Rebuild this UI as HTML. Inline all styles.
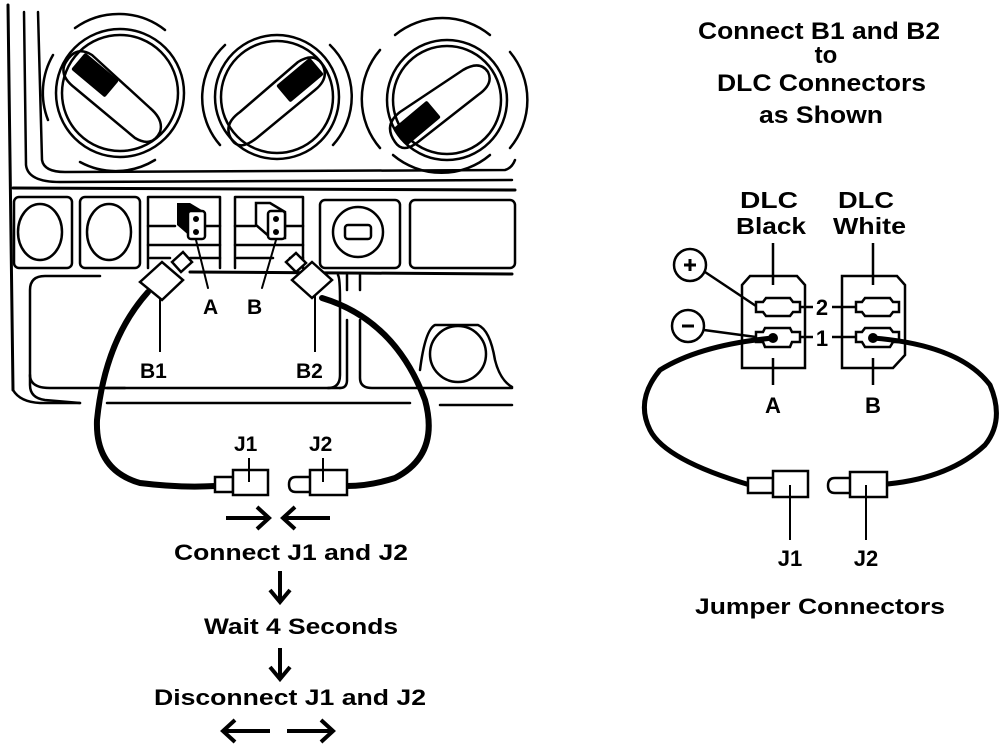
<!DOCTYPE html>
<html><head><style>
html,body{margin:0;padding:0;background:#fff;}
svg{display:block;}
text{font-family:"Liberation Sans",Arial,sans-serif;font-weight:bold;fill:#000;}
</style></head><body>
<svg width="1008" height="752" viewBox="0 0 1008 752" xmlns="http://www.w3.org/2000/svg">
<g fill="none" stroke="#000" stroke-width="2.5" stroke-linecap="round" stroke-linejoin="round">
<path d="M8 5 L13 390" stroke-width="3"/>
<path d="M24 12 L26 165 Q28 182 60 182 L512 180"/>
<path d="M38 12 L42 160 Q44 172 65 172 L505 170 Q512 168 515 160"/>
<path d="M13 188 L515 190" stroke-width="3"/>
<path d="M13 390 Q20 402 40 403 L80 403"/>
<path d="M107 403 L410 403"/>
<path d="M440 405 L512 405"/>
<path d="M107 388 L340 388"/>
<circle cx="120" cy="93" r="58"/>
<circle cx="120" cy="93" r="64"/>
<path d="M75 28 A75 75 0 0 1 165 30"/>
<path d="M53 55 A75 75 0 0 0 48 120"/>
<path d="M80 162 A75 75 0 0 0 155 160"/>
<path d="M66 62 Q58 75 75 88 L135 138 Q152 148 160 132 Q164 120 150 108 L92 55 Q76 45 66 62 Z"/>
<circle cx="277" cy="97" r="56"/>
<circle cx="277" cy="97" r="62"/>
<path d="M225 45 A72 72 0 0 0 220 145"/>
<path d="M330 45 A72 72 0 0 1 333 145"/>
<path d="M232 140 Q222 125 240 112 L298 62 Q314 52 322 64 Q330 78 315 90 L258 137 Q240 152 232 140 Z"/>
<circle cx="447" cy="100" r="54"/>
<circle cx="447" cy="100" r="60"/>
<path d="M395 35 A75 75 0 0 1 490 35"/>
<path d="M380 50 A75 75 0 0 0 380 148"/>
<path d="M510 52 A75 75 0 0 1 510 148"/>
<path d="M393 155 A75 75 0 0 0 490 155"/>
<path d="M395 142 Q383 125 400 112 L463 70 Q480 60 488 72 Q494 84 478 95 L418 142 Q403 154 395 142 Z"/>
<rect x="14" y="197" width="58" height="71" rx="5"/>
<ellipse cx="40" cy="232" rx="22" ry="28"/>
<rect x="80" y="197" width="60" height="71" rx="5"/>
<ellipse cx="109" cy="232" rx="22" ry="28"/>
<path d="M148 268 L148 197 L220 197 L220 268"/>
<path d="M148 226 L175 226 M205 226 L220 226 M148 245 L220 245 M150 258 L170 258 M190 258 L220 258"/>
<path d="M235 268 L235 197 L303 197 L303 268"/>
<path d="M235 226 L255 226 M285 226 L303 226 M235 245 L303 245 M237 258 L273 258 M290 258 L303 258"/>
<rect x="320" y="200" width="80" height="68" rx="5"/>
<circle cx="358" cy="232" r="25"/>
<rect x="345" y="225" width="26" height="14" rx="3"/>
<rect x="410" y="200" width="105" height="68" rx="5"/>
<path d="M190 272 L512 274" stroke-width="3"/>
<path d="M80 403 L45 400 Q30 398 30 385 L30 290 Q30 276 45 276 L100 276" />
<path d="M125 388 L50 388 Q30 388 30 375"/>
<path d="M338 275 Q340 278 340 300 L340 375 Q340 388 328 388"/>
<path d="M347 275 L347 290 M360 275 L360 290"/>
<path d="M347 320 L347 380 Q347 388 340 388"/>
<path d="M360 320 L360 378 Q360 388 372 388 L512 388"/>
<path d="M420 370 Q425 330 435 325 L478 325 Q490 330 495 360 Q500 380 512 387"/>
<circle cx="458" cy="354" r="28"/>
</g>
<!-- black knob windows -->
<rect x="73" y="64" width="44" height="22" rx="2" fill="#000" transform="rotate(40 95 75)"/>
<rect x="278" y="69" width="44" height="22" rx="2" fill="#000" transform="rotate(-40 300 80)"/>
<rect x="395" y="112" width="44" height="22" rx="2" fill="#000" transform="rotate(-40 417 123)"/>
<path d="M177 203 L190 203 L205 212 L205 238 L192 238 L177 225 Z" fill="#000"/>
<rect x="188" y="211" width="17" height="28" rx="3" fill="#fff" stroke="#000" stroke-width="2.5"/>
<circle cx="196" cy="219" r="3" fill="#000"/><circle cx="196" cy="232" r="3" fill="#000"/>
<path d="M256 203 L270 203 L285 212 L285 238 L271 238 L256 225 Z" fill="#fff" stroke="#000" stroke-width="2.5"/>
<rect x="268" y="211" width="17" height="28" rx="3" fill="#fff" stroke="#000" stroke-width="2.5"/>
<circle cx="276" cy="219" r="3" fill="#000"/><circle cx="276" cy="232" r="3" fill="#000"/>
<g fill="none" stroke="#000" stroke-linecap="round">
<path d="M196 240 L208 288 M276 240 L262 288" stroke-width="2"/>
<path d="M148 292 Q105 340 97 420 Q95 470 140 483 Q180 488 215 486" stroke-width="6"/>
<path d="M322 298 Q395 320 425 400 Q440 455 395 478 Q370 486 347 486" stroke-width="6"/>
</g>
<g stroke="#000" stroke-width="2.5" fill="#fff">
<path d="M172 262 L183 252 L192 262 L181 272 Z"/>
<path d="M140 282 L162 262 L183 280 L162 300 Z"/>
<path d="M286 262 L296 253 L306 263 L296 272 Z"/>
<path d="M292 280 L312 262 L332 280 L312 298 Z"/>
</g>
<g stroke="#000" stroke-width="2" fill="none">
<path d="M160 298 L160 352 M315 296 L315 352"/>
</g>
<text x="203" y="314" font-size="21">A</text>
<text x="247" y="314" font-size="21">B</text>
<text x="140" y="378" font-size="21">B1</text>
<text x="296" y="378" font-size="21">B2</text>
<g stroke="#000" stroke-width="2.5" fill="#fff">
<rect x="215" y="477" width="18" height="15"/>
<rect x="233" y="470" width="35" height="25"/>
<path d="M310 477 L296 477 Q289 477 289 484.5 Q289 492 296 492 L310 492"/>
<rect x="310" y="470" width="37" height="25"/>
</g>
<path d="M249 458 L249 482 M323 458 L323 482" stroke="#000" stroke-width="2"/>
<text x="234" y="451" font-size="21">J1</text>
<text x="309" y="451" font-size="21">J2</text>
<g stroke="#000" stroke-width="4" fill="none" stroke-linecap="butt">
<path d="M226 518 L268 518 M257 507 L269 518 L257 529"/>
<path d="M330 518 L284 518 M295 507 L283 518 L295 529"/>
<path d="M280 571 L280 600 M270 590 L280 602 L290 590"/>
<path d="M280 648 L280 677 M270 667 L280 679 L290 667"/>
<path d="M270 731 L224 731 M235 720 L223 731 L235 742"/>
<path d="M287 731 L332 731 M321 720 L333 731 L321 742"/>
</g>
<text x="174" y="560" font-size="22" textLength="234" lengthAdjust="spacingAndGlyphs">Connect J1 and J2</text>
<text x="204" y="634" font-size="22" textLength="194" lengthAdjust="spacingAndGlyphs">Wait 4 Seconds</text>
<text x="154" y="705" font-size="22" textLength="272" lengthAdjust="spacingAndGlyphs">Disconnect J1 and J2</text>
<text x="698" y="39" font-size="24" textLength="242" lengthAdjust="spacingAndGlyphs">Connect B1 and B2</text>
<text x="826" y="63" font-size="24" text-anchor="middle">to</text>
<text x="717" y="91" font-size="24" textLength="209" lengthAdjust="spacingAndGlyphs">DLC Connectors</text>
<text x="759" y="123" font-size="24" textLength="124" lengthAdjust="spacingAndGlyphs">as Shown</text>
<text x="740" y="208" font-size="23" textLength="58" lengthAdjust="spacingAndGlyphs">DLC</text>
<text x="736" y="234" font-size="23" textLength="70" lengthAdjust="spacingAndGlyphs">Black</text>
<text x="838" y="208" font-size="23" textLength="56" lengthAdjust="spacingAndGlyphs">DLC</text>
<text x="833" y="234" font-size="23" textLength="73" lengthAdjust="spacingAndGlyphs">White</text>
<g stroke="#000" stroke-width="2.5" fill="none">
<path d="M742 368 L742 285 L750 276 L797 276 L805 285 L805 368 Z"/>
<path d="M842 368 L842 276 L897 276 L905 285 L905 355 L893 368 Z"/>
<path d="M773 243 L773 285 M873 243 L873 285 M773 358 L773 385 M873 358 L873 385"/>
<path d="M756 302 L763 302 L766 298 L790 298 L793 302 L800 302 L800 312 L793 312 L790 316 L766 316 L763 312 L756 312 Z"/>
<path d="M856 302 L862 302 L865 298 L890 298 L893 302 L899 302 L899 312 L893 312 L890 316 L865 316 L862 312 L856 312 Z"/>
<path d="M756 332 L763 332 L765 328 L790 328 L792 332 L800 332 L800 342 L792 342 L790 347 L765 347 L763 342 L756 342 Z"/>
<path d="M856 332 L862 332 L865 328 L890 328 L893 332 L899 332 L899 342 L893 342 L890 347 L865 347 L862 342 L856 342 Z"/>
<path d="M800 307 L813 307 M832 307 L856 307 M800 337 L813 337 M832 337 L856 337"/>
<circle cx="690" cy="265" r="16"/>
<circle cx="688" cy="326" r="16"/>
<path d="M705 272 L756 306 M704 330 L756 337"/>
</g>
<path d="M684 265 L696 265 M690 259 L690 271 M682 326 L694 326" stroke="#000" stroke-width="3"/>
<circle cx="773" cy="338" r="5" fill="#000"/>
<circle cx="873" cy="338" r="5" fill="#000"/>
<text x="822" y="315" font-size="22" text-anchor="middle">2</text>
<text x="822" y="346" font-size="22" text-anchor="middle">1</text>
<text x="773" y="413" font-size="22" text-anchor="middle">A</text>
<text x="873" y="413" font-size="22" text-anchor="middle">B</text>
<g fill="none" stroke="#000" stroke-width="5" stroke-linecap="round">
<path d="M773 338 Q700 345 660 370 Q635 400 650 430 Q665 460 750 485"/>
<path d="M873 338 Q960 345 990 385 Q1005 420 985 445 Q950 478 887 484"/>
</g>
<g stroke="#000" stroke-width="2.5" fill="#fff">
<rect x="748" y="478" width="25" height="15"/>
<rect x="773" y="471" width="35" height="26"/>
<path d="M850 478 L835 478 Q828 478 828 485.5 Q828 493 835 493 L850 493"/>
<rect x="850" y="472" width="37" height="25"/>
</g>
<path d="M790 485 L790 540 M866 485 L866 540" stroke="#000" stroke-width="2"/>
<text x="790" y="566" font-size="22" text-anchor="middle">J1</text>
<text x="866" y="566" font-size="22" text-anchor="middle">J2</text>
<text x="695" y="614" font-size="22" textLength="250" lengthAdjust="spacingAndGlyphs">Jumper Connectors</text>
</svg>
</body></html>
